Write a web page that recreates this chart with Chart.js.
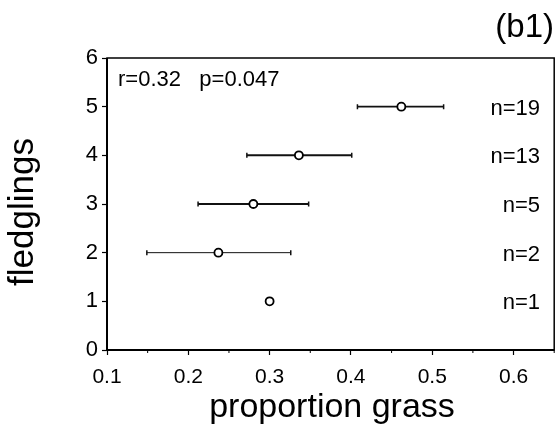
<!DOCTYPE html>
<html><head><meta charset="utf-8">
<script src="https://cdn.jsdelivr.net/npm/chart.js@4"></script>
<style>html,body{margin:0;padding:0;background:#fff}#w{width:560px;height:428px}</style>
</head><body><div id="w"><canvas id="c" width="560" height="428"></canvas></div>
<script>
const fledglings = [1, 2, 3, 4, 5];
const meanGrass  = [0.300, 0.237, 0.280, 0.336, 0.462];
const lowGrass   = [null, 0.149, 0.212, 0.272, 0.408];
const highGrass  = [null, 0.326, 0.348, 0.401, 0.514];
const nLabels    = ['n=1', 'n=2', 'n=5', 'n=13', 'n=19'];
const barWidths  = [1, 1, 2, 2, 1.6];
const xTicks = [0.1, 0.2, 0.3, 0.4, 0.5, 0.6];
const yTicks = [0, 1, 2, 3, 4, 5, 6];
const statsText = 'r=0.32   p=0.047';
const panelLabel = '(b1)';
const xTitle = 'proportion grass';
const yTitle = 'fledglings';

const FONT = "'Liberation Sans', Arial, sans-serif";

const decor = {
  id: 'decor',
  beforeDatasetsDraw(chart) {
    const {ctx, scales: {x, y}} = chart;
    ctx.save();
    fledglings.forEach((f, i) => {
      if (lowGrass[i] == null) return;
      const yy = y.getPixelForValue(f);
      const x1 = x.getPixelForValue(lowGrass[i]);
      const x2 = x.getPixelForValue(highGrass[i]);
      ctx.strokeStyle = '#111';
      ctx.lineWidth = barWidths[i];
      ctx.beginPath();
      ctx.moveTo(x1, yy); ctx.lineTo(x2, yy);
      ctx.stroke();
      ctx.lineWidth = 1.5;
      ctx.beginPath();
      ctx.moveTo(x1, yy - 2.5); ctx.lineTo(x1, yy + 2.5);
      ctx.moveTo(x2, yy - 2.5); ctx.lineTo(x2, yy + 2.5);
      ctx.stroke();
    });
    ctx.restore();
  },
  afterDraw(chart) {
    const {ctx, chartArea: a, scales: {x, y}} = chart;
    ctx.save();
    ctx.strokeStyle = '#000';
    ctx.lineWidth = 1.5;
    ctx.strokeRect(a.left, a.top, a.right - a.left, a.bottom - a.top);
    ctx.lineWidth = 2;
    ctx.beginPath();
    ctx.moveTo(a.left, a.top); ctx.lineTo(a.left, a.bottom); ctx.lineTo(a.right, a.bottom);
    ctx.stroke();
    ctx.lineWidth = 1;
    for (let i = 0; i < xTicks.length; i++) {
      const px = x.getPixelForValue(xTicks[i] + 0.05);
      if (px > a.right) continue;
      ctx.beginPath(); ctx.moveTo(px, a.bottom); ctx.lineTo(px, a.bottom + 3); ctx.stroke();
    }
    ctx.fillStyle = '#000';
    ctx.font = '22px ' + FONT;
    ctx.textAlign = 'right';
    ctx.textBaseline = 'middle';
    fledglings.forEach((f, i) => {
      ctx.fillText(nLabels[i], 540, y.getPixelForValue(f) + 2);
    });
    ctx.textAlign = 'left';
    ctx.fillText(statsText, 118, 80);
    ctx.font = '33px ' + FONT;
    ctx.textAlign = 'right';
    ctx.fillText(panelLabel, 554, 28);
    ctx.textAlign = 'center';
    ctx.textBaseline = 'alphabetic';
    ctx.font = '34px ' + FONT;
    ctx.fillText(xTitle, 332, 417);
    ctx.save();
    ctx.translate(33, 212);
    ctx.rotate(-Math.PI / 2);
    ctx.font = '35px ' + FONT;
    ctx.fillText(yTitle, 0, 0);
    ctx.restore();
    ctx.restore();
  }
};

new Chart(document.getElementById('c'), {
  type: 'scatter',
  data: {
    datasets: [{
      data: fledglings.map((f, i) => ({x: meanGrass[i], y: f})),
      pointRadius: 4,
      pointBorderWidth: 1.8,
      pointBorderColor: '#000',
      pointBackgroundColor: '#fff',
      showLine: false
    }]
  },
  options: {
    responsive: false,
    animation: false,
    events: [],
    layout: {padding: {left: 0, top: 58, right: 2, bottom: 0}},
    plugins: {legend: {display: false}, tooltip: {enabled: false}},
    scales: {
      x: {
        type: 'linear', min: 0.1, max: 0.65,
        afterBuildTicks(s) { s.ticks = xTicks.map(v => ({value: v})); },
        afterFit(s) { s.height = 78; },
        border: {display: false},
        grid: {drawOnChartArea: false, tickLength: 5, color: '#000', tickWidth: 1.2},
        ticks: {color: '#000', font: {family: FONT, size: 21}, padding: 10, maxRotation: 0,
          callback: v => v.toFixed(1)}
      },
      y: {
        type: 'linear', min: 0, max: 6,
        afterBuildTicks(s) { s.ticks = yTicks.map(v => ({value: v})); },
        afterFit(s) { s.width = 107; },
        border: {display: false},
        grid: {drawOnChartArea: false, tickLength: 5, color: '#000', tickWidth: 1.2},
        ticks: {color: '#000', font: {family: FONT, size: 22}, padding: 4}
      }
    }
  },
  plugins: [decor]
});
</script>
</body></html>
